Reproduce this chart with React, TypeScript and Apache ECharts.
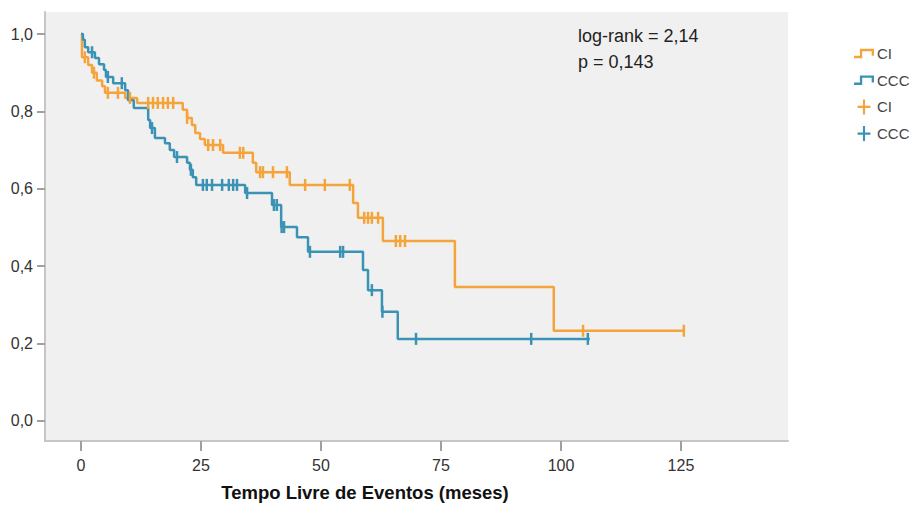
import React, { useEffect, useRef } from 'react';
import * as echarts from 'echarts';

// ---- Data ----
const seriesNames = ['CI', 'CCC'];

const ciEventTimes = [0.2, 1.5, 2.3, 3.3, 4.4, 5.0, 9.2, 11.7, 21.2, 22.1, 23.1, 23.8, 24.8, 25.8, 29.6, 35.8, 36.5, 43.5, 56.7, 57.7, 62.9, 77.9, 98.5];
const ciEventSurv = [0.94, 0.92, 0.90, 0.88, 0.865, 0.848, 0.835, 0.822, 0.804, 0.783, 0.765, 0.744, 0.729, 0.713, 0.693, 0.667, 0.643, 0.61, 0.563, 0.525, 0.465, 0.346, 0.233];
const ciEndTime = 125.6;
const ciCensorTimes = [0.8, 2.7, 5.6, 7.7, 10.2, 14.0, 15.0, 16.0, 17.1, 18.1, 19.2, 22.1, 26.5, 27.5, 29.0, 33.1, 33.8, 37.3, 37.9, 40.0, 42.9, 46.7, 50.8, 56.0, 59.0, 59.8, 60.6, 61.9, 65.6, 66.5, 67.5, 104.6, 125.6];

const cccEventTimes = [0.4, 0.8, 1.5, 2.9, 3.75, 4.8, 5.2, 6.7, 9.2, 9.8, 11.0, 14.0, 14.4, 15.4, 17.5, 18.5, 19.4, 22.1, 22.7, 23.3, 24.0, 34.2, 39.8, 41.7, 45.0, 47.3, 58.75, 59.8, 62.7, 66.0];
const cccEventSurv = [0.985, 0.966, 0.953, 0.938, 0.922, 0.907, 0.889, 0.873, 0.855, 0.829, 0.809, 0.778, 0.757, 0.731, 0.718, 0.70, 0.682, 0.667, 0.649, 0.63, 0.61, 0.589, 0.558, 0.501, 0.475, 0.437, 0.39, 0.338, 0.282, 0.212];
const cccEndTime = 106.0;
const cccCensorTimes = [2.3, 5.6, 8.5, 14.8, 20.0, 22.9, 25.4, 26.2, 27.3, 29.4, 30.8, 31.7, 32.5, 34.6, 40.2, 40.8, 41.8, 42.3, 47.7, 54.0, 54.6, 60.6, 62.8, 69.8, 93.8, 105.6];

const xTicks = [0, 25, 50, 75, 100, 125];
const xTickLabels = ['0', '25', '50', '75', '100', '125'];
const yTicks = [0, 0.2, 0.4, 0.6, 0.8, 1.0];
const yTickLabels = ['0,0', '0,2', '0,4', '0,6', '0,8', '1,0'];
const annotationLines = ['log-rank = 2,14', 'p = 0,143'];
const xAxisTitle = 'Tempo Livre de Eventos (meses)';

// ---- Helpers ----
const COLORS = ['#f5a43b', '#3a93b4'];
const FONT = "'Liberation Sans', Arial, sans-serif";

function stepPoints(times: number[], surv: number[], end: number) {
  const pts: number[][] = [[0, 1]];
  for (let i = 0; i < times.length; i++) pts.push([times[i], surv[i]]);
  pts.push([end, surv[surv.length - 1]]);
  return pts;
}
function survAt(times: number[], surv: number[], t: number) {
  let s = 1;
  for (let i = 0; i < times.length; i++) if (times[i] <= t) s = surv[i];
  return s;
}
function censorPoints(times: number[], surv: number[], cens: number[]) {
  return cens.map((t) => [t, survAt(times, surv, t)]);
}
function labelFor(ticks: number[], labels: string[], v: number) {
  const i = ticks.findIndex((t) => Math.abs(t - v) < 1e-6);
  return i >= 0 ? labels[i] : '';
}

const STEP_ICON = 'path://M0,9 L5,9 L5,3 L17,3 L17,9 L15,9 L15,5 L7,5 L7,11 L0,11 Z';
const CROSS_ICON = 'path://M5,0 L7,0 L7,6 L12,6 L12,8 L7,8 L7,14 L5,14 L5,8 L0,8 L0,6 L5,6 Z';

export default function App() {
  const ref = useRef<HTMLDivElement>(null);
  useEffect(() => {
    if (!ref.current) return;
    const chart = echarts.init(ref.current, undefined, { renderer: 'svg' });
    const axisLineStyle = { color: '#c6c6c6', width: 2 };
    const tickStyle = { color: '#a0a0a0', width: 2 };
    const option: any = {
      animation: false,
      textStyle: { fontFamily: FONT },
      grid: {
        left: 45, right: 133, top: 12, bottom: 68,
        show: true, backgroundColor: '#f0f0f0', borderWidth: 0,
      },
      xAxis: {
        type: 'value', min: -7.5, max: 147.3,
        axisLine: { show: true, onZero: false, lineStyle: axisLineStyle },
        axisTick: { show: true, customValues: xTicks, length: 10, lineStyle: tickStyle },
        axisLabel: {
          customValues: xTicks, margin: 16, fontSize: 16, color: '#333', fontFamily: FONT,
          formatter: (v: number) => labelFor(xTicks, xTickLabels, v),
        },
        splitLine: { show: false },
      },
      yAxis: {
        type: 'value', min: -0.052, max: 1.057,
        axisLine: { show: true, onZero: false, lineStyle: axisLineStyle },
        axisTick: { show: true, customValues: yTicks, length: 8, lineStyle: tickStyle },
        axisLabel: {
          customValues: yTicks, margin: 12, fontSize: 16, color: '#333', fontFamily: FONT,
          formatter: (v: number) => labelFor(yTicks, yTickLabels, v),
        },
        splitLine: { show: false },
      },
      legend: {
        orient: 'vertical', left: 849, top: 41,
        itemWidth: 20, itemHeight: 15, itemGap: 11.7,
        selectedMode: false,
        itemStyle: { borderWidth: 0 },
        textStyle: { fontSize: 15, color: '#444', fontFamily: FONT, padding: [0, 0, 0, -2] },
        formatter: (name: string) => name.trim(),
        data: [
          { name: seriesNames[0], icon: STEP_ICON, itemStyle: { color: COLORS[0], borderWidth: 0 } },
          { name: seriesNames[1], icon: STEP_ICON, itemStyle: { color: COLORS[1], borderWidth: 0 } },
          { name: seriesNames[0] + ' ', icon: CROSS_ICON, itemStyle: { color: COLORS[0], borderWidth: 0 } },
          { name: seriesNames[1] + ' ', icon: CROSS_ICON, itemStyle: { color: COLORS[1], borderWidth: 0 } },
        ],
      },
      series: [
        {
          name: seriesNames[0], type: 'line', step: 'end', showSymbol: false, symbol: 'none',
          data: stepPoints(ciEventTimes, ciEventSurv, ciEndTime),
          lineStyle: { color: COLORS[0], width: 2.5 }, itemStyle: { color: COLORS[0] }, z: 2,
        },
        {
          name: seriesNames[1], type: 'line', step: 'end', showSymbol: false, symbol: 'none',
          data: stepPoints(cccEventTimes, cccEventSurv, cccEndTime),
          lineStyle: { color: COLORS[1], width: 2.5 }, itemStyle: { color: COLORS[1] }, z: 3,
        },
        {
          name: seriesNames[0] + ' ', type: 'scatter', symbol: 'rect', symbolSize: [2.5, 12],
          data: censorPoints(ciEventTimes, ciEventSurv, ciCensorTimes),
          itemStyle: { color: COLORS[0], opacity: 1 }, z: 4,
        },
        {
          name: seriesNames[1] + ' ', type: 'scatter', symbol: 'rect', symbolSize: [2.5, 12],
          data: censorPoints(cccEventTimes, cccEventSurv, cccCensorTimes),
          itemStyle: { color: COLORS[1], opacity: 1 }, z: 5,
        },
      ],
      graphic: [
        {
          type: 'text', left: 578, top: 27,
          style: { text: annotationLines[0], fontSize: 18, fill: '#222', fontFamily: FONT },
        },
        {
          type: 'text', left: 578, top: 53,
          style: { text: annotationLines[1], fontSize: 18, fill: '#222', fontFamily: FONT },
        },
        {
          type: 'text', x: 365, y: 492,
          style: {
            text: xAxisTitle, fontSize: 18.5, fontWeight: 'bold', fill: '#111', fontFamily: FONT,
            align: 'center', verticalAlign: 'middle',
          },
        },
      ],
    };
    chart.setOption(option);
    return () => chart.dispose();
  }, []);
  return <div ref={ref} style={{ width: 921, height: 509, position: 'absolute', left: 0, top: 0 }} />;
}
